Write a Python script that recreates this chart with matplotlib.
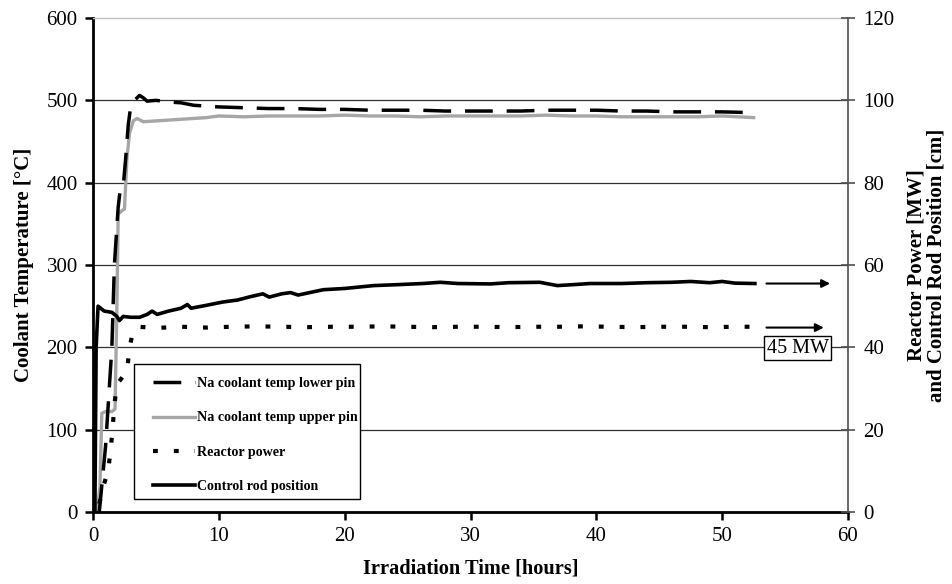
import matplotlib
matplotlib.use("Agg")
import matplotlib.pyplot as plt
from matplotlib.patches import Rectangle

plt.rcParams['font.family'] = ['Liberation Serif', 'DejaVu Serif']
plt.rcParams['lines.scale_dashes'] = False

# lower pin coolant temperature [degC]
t_lower = [0.5, 1.0, 1.5, 1.7, 2.0, 2.15, 2.4, 2.6, 2.8, 3.0, 3.3, 3.7, 4.0, 4.3, 5.0, 6.0,
           7.0, 8.0, 9.0, 10, 12, 14, 16, 18, 20, 22, 24, 26, 28, 30, 32, 34, 36, 38,
           40, 42, 44, 46, 48, 50, 52.5]
T_lower = [0, 80, 200, 300, 370, 390, 395, 430, 470, 493, 500, 506, 503, 499, 500, 498,
           497, 494, 493, 492, 491, 490, 490, 489, 489, 488, 488, 488, 487, 487, 487, 487,
           488, 488, 488, 487, 487, 486, 486, 486, 485]

# upper pin coolant temperature [degC]
t_upper = [0.3, 0.55, 0.7, 1.0, 1.5, 1.75, 1.9, 2.0, 2.3, 2.5, 2.7, 2.9, 3.2, 3.5, 4.0, 5,
           6, 7, 8, 9, 10, 12, 14, 16, 18, 20, 22, 24, 26, 28, 30, 32, 34, 36, 38, 40,
           42, 44, 46, 48, 50, 52.5]
T_upper = [0, 30, 120, 122, 122, 125, 250, 362, 366, 368, 430, 460, 475, 478, 474, 475,
           476, 477, 478, 479, 481, 480, 481, 481, 481, 482, 481, 481, 480, 481, 481, 481,
           481, 482, 481, 481, 480, 480, 480, 480, 481, 479]

# reactor power [MW]
t_power = [0.5, 0.8, 1.2, 1.4, 1.55, 1.7, 1.9, 2.4, 2.7, 2.9, 3.2, 3.6, 5, 7, 9, 11, 13,
           15, 17, 19, 21, 23, 25, 27, 29, 31, 33, 35, 37, 39, 41, 43, 45, 47, 49, 51, 52.5]
P_power = [2, 6, 10, 15, 20, 26, 31, 33, 34, 40, 44, 45, 44.7, 45, 44.8, 45, 45.1, 45,
           44.9, 45, 45, 45.1, 45, 44.9, 45, 45, 44.9, 45, 45, 45.1, 45, 44.9, 45, 45,
           44.9, 45, 45]

# control rod position [cm]
t_rod = [0.0, 0.15, 0.25, 0.4, 0.6, 0.9, 1.5, 1.9, 2.1, 2.4, 3.0, 3.7, 4.3, 4.7, 5.1, 6.0,
         7.0, 7.5, 7.8, 9.0, 10.3, 11.5, 12.5, 13.5, 14, 15, 15.7, 16.3, 18.3, 20, 22.3,
         24, 26.2, 27.6, 29, 31.6, 33, 35.5, 36.9, 38, 39.5, 42, 44, 46, 47.5, 49, 50,
         51, 52.6]
h_rod = [0, 0, 40, 50, 49.5, 48.8, 48.5, 47.5, 46.5, 47.5, 47.3, 47.3, 48, 48.8, 48, 48.8,
         49.5, 50.4, 49.5, 50.2, 51, 51.5, 52.3, 53, 52.2, 53, 53.3, 52.7, 54, 54.3, 55,
         55.2, 55.5, 55.8, 55.5, 55.4, 55.7, 55.8, 55, 55.2, 55.5, 55.5, 55.7, 55.8, 56,
         55.7, 56, 55.6, 55.5]

fig = plt.figure(figsize=(9.52, 5.84), dpi=100)
ax = fig.add_axes([93 / 952, 72 / 584, 755 / 952, 494 / 584])
ax2 = ax.twinx()

for y in [100, 200, 300, 400, 500]:
    ax.axhline(y, color='#303030', lw=0.9, zorder=0)

l1, = ax.plot(t_lower, T_lower, color='black', lw=2.5, dashes=(20, 10),
              label='Na coolant temp lower pin', zorder=3)
l2, = ax.plot(t_upper, T_upper, color='#a6a6a6', lw=2.4,
              label='Na coolant temp upper pin', zorder=2)
l3, = ax2.plot(t_power, P_power, color='black', lw=3.0, dashes=(3.5, 11.5),
               label='Reactor power')
l4, = ax2.plot(t_rod, h_rod, color='black', lw=2.6, label='Control rod position')

ax.set_xlim(0, 60)
ax.set_ylim(0, 600)
ax2.set_ylim(0, 120)
ax.set_xticks(range(0, 61, 10))
ax.set_yticks(range(0, 601, 100))
ax2.set_yticks(range(0, 121, 20))

ax.spines['top'].set_color('#c0c0c0')
ax.spines['top'].set_linewidth(1)
ax2.spines['top'].set_visible(False)
ax.spines['left'].set_linewidth(2)
ax.spines['bottom'].set_linewidth(2)
ax2.spines['left'].set_visible(False)
ax2.spines['bottom'].set_visible(False)
ax.spines['right'].set_visible(False)
ax2.spines['right'].set_color('#505050')
ax2.spines['right'].set_linewidth(1.2)

ax.tick_params(axis='y', direction='out', length=6, width=1.8, labelsize=15, pad=5)
ax.tick_params(axis='x', direction='out', length=6, width=1.8, labelsize=15, pad=5)
ax2.tick_params(axis='y', direction='inout', length=10, width=1.2, color='#505050',
                labelsize=15, pad=6)

ax.set_xlabel('Irradiation Time [hours]', fontsize=14.7, fontweight='bold', labelpad=9)
ax.set_ylabel('Coolant Temperature [°C]', fontsize=15, fontweight='bold', labelpad=9)
ax2.set_ylabel('Reactor Power [MW]\nand Control Rod Position [cm]', fontsize=15,
               fontweight='bold', labelpad=9, linespacing=1.0)

ax2.annotate('', xy=(58.8, 55.5), xytext=(53.3, 55.5), annotation_clip=False,
             arrowprops=dict(arrowstyle='-|>', color='black', lw=1.5, mutation_scale=12))
ax2.annotate('', xy=(58.3, 44.8), xytext=(53.3, 44.8), annotation_clip=False,
             arrowprops=dict(arrowstyle='-|>', color='black', lw=1.5, mutation_scale=12))
ax2.text(56.0, 39.8, '45 MW', fontsize=14.5, ha='center', va='center',
         bbox=dict(boxstyle='square,pad=0.12', facecolor='white', edgecolor='black', lw=1))

ax2.set_zorder(ax.get_zorder() + 1)
ax2.patch.set_visible(False)

# legend frame drawn separately so the entries can sit where they do in the original
ax2.add_patch(Rectangle((0.0543, 0.0263), 0.2993, 0.273, transform=ax2.transAxes,
                        facecolor='white', edgecolor='black', lw=1, zorder=4))
leg = ax2.legend(handles=[l1, l2, l3, l4], loc='upper left',
                 bbox_to_anchor=(0.0795, 0.273), prop={'size': 10.1, 'weight': 'bold'},
                 frameon=False, handlelength=3.0, handletextpad=0.15,
                 labelspacing=1.52, borderpad=0, borderaxespad=0)
leg.set_zorder(5)

plt.savefig('out.png', dpi=100)
